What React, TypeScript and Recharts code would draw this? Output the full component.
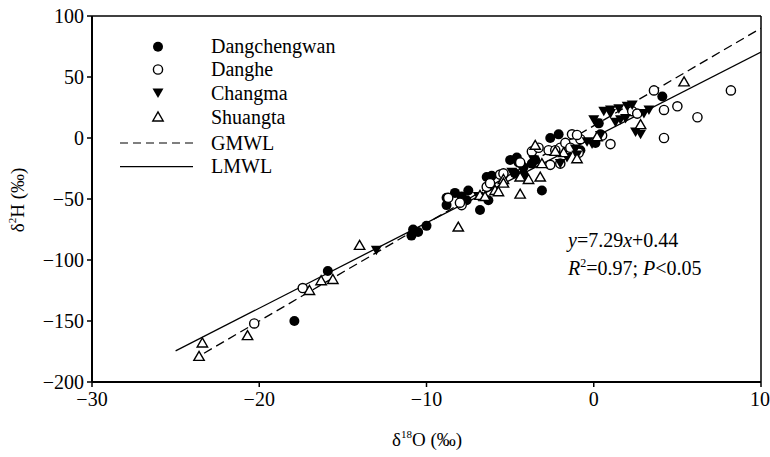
import React from 'react';
import { ScatterChart, Scatter, XAxis, YAxis, ReferenceLine, Customized } from 'recharts';

const FONT = '"Liberation Serif", "Times New Roman", serif';

// δ18O, δ2H pairs
const dangchengwan = [
  [-17.9, -150], [-15.9, -109], [-10.9, -80], [-10.5, -77], [-10.8, -75], [-10.0, -72],
  [-8.8, -55], [-8.3, -45], [-7.5, -43], [-7.6, -51], [-6.8, -59], [-6.4, -32], [-6.1, -31],
  [-5.4, -30], [-5.0, -18], [-4.6, -16], [-4.7, -29], [-3.7, -21], [-3.1, -43], [-2.6, 0],
  [-2.1, 3], [0.3, 12], [4.1, 34], [-7.9, -48], [-4.2, -24], [0.4, 3], [-8.8, -49],
  [-6.2, -38], [-6.3, -51], [-4.5, -20], [-3.5, -18], [-0.8, -10], [-4.2, -30], [0.1, -4],
].map(([x, y]) => ({ x, y }));

const danghe = [
  [-20.3, -152], [-17.4, -123], [-8.7, -49], [-7.9, -55], [-6.4, -40], [-6.2, -37], [-5.6, -30],
  [-3.7, -11], [-3.3, -8], [-2.0, -8], [-1.7, -4], [-1.4, -8], [-1.3, 3], [-0.8, -1], [0.5, 2],
  [1.0, -5], [2.3, 22], [3.6, 39], [4.2, 23], [5.0, 26], [8.2, 39], [6.2, 17], [4.2, 0],
  [-2.7, -10], [-4.4, -20], [-1.0, 2.5], [2.6, 20], [-2.3, -10], [-0.9, -12], [-2.0, -21],
  [-8.0, -53], [-5.4, -29], [-2.6, -22],
].map(([x, y]) => ({ x, y }));

const changma = [
  [-13.0, -92], [0.0, 15], [0.6, 22], [1.0, 23], [1.5, 24], [2.0, 26], [2.3, 27], [1.6, 15],
  [1.9, 16], [3.0, 20], [3.3, 23], [2.8, 3], [-0.4, -3], [-1.1, -9], [-1.0, -14], [-3.6, -18],
  [-2.0, -21], [-4.9, -28], [-0.1, -5], [0.4, 2], [-6.9, -48], [2.5, 5], [1.0, 20],
  [1.3, 13], [0.2, 12], [-1.6, -16],
].map(([x, y]) => ({ x, y }));

const shuangta = [
  [-23.4, -168], [-23.6, -179], [-20.7, -162], [-17.0, -125], [-16.3, -117], [-15.6, -116],
  [-14.0, -88], [-8.1, -73], [-6.8, -47], [-6.5, -48], [-5.9, -43], [-5.4, -34], [-4.4, -32],
  [-3.9, -34], [-3.2, -32], [-4.4, -46], [-3.5, -6], [-3.1, -21], [-1.8, -12], [-1.0, -17],
  [2.8, 11], [5.4, 46], [-5.7, -44], [-2.3, -11], [0.2, 1], [-5.4, -37],
].map(([x, y]) => ({ x, y }));

// water lines (end points)
const gmwl = [{ x: -23.3, y: -176.4 }, { x: 10, y: 90 }];
const lmwl = [{ x: -25, y: -174.5 }, { x: 10, y: 70.5 }];

const xTicks = [-30, -20, -10, 0, 10];
const yTicks = [-200, -150, -100, -50, 0, 50, 100];

const fmt = (v: number) => (v < 0 ? '\u2212' + Math.abs(v) : String(v));

const FilledCircle = (p: any) => <circle cx={p.cx} cy={p.cy} r={5} fill="#000" />;
const OpenCircle = (p: any) => (
  <circle cx={p.cx} cy={p.cy} r={4.6} fill="#fff" stroke="#000" strokeWidth={1.4} />
);
const DownTri = (p: any) => (
  <path d={`M${p.cx - 5.5},${p.cy - 4.5} L${p.cx + 5.5},${p.cy - 4.5} L${p.cx},${p.cy + 5} Z`} fill="#000" />
);
const UpTri = (p: any) => (
  <path
    d={`M${p.cx - 5.2},${p.cy + 4} L${p.cx + 5.2},${p.cy + 4} L${p.cx},${p.cy - 5} Z`}
    fill="#fff"
    stroke="#000"
    strokeWidth={1.4}
  />
);
const NoDot = () => <g />;

const Overlay = () => {
  const rows = [
    { label: 'Dangchengwan', sym: 'fc', y: 46.7 },
    { label: 'Danghe', sym: 'oc', y: 69.5 },
    { label: 'Changma', sym: 'dt', y: 93 },
    { label: 'Shuangta', sym: 'ut', y: 117 },
    { label: 'GMWL', sym: 'dash', y: 143 },
    { label: 'LMWL', sym: 'solid', y: 166.7 },
  ];
  return (
    <g fontFamily={FONT} fill="#000">
      {rows.map((r) => (
        <g key={r.label}>
          {r.sym === 'fc' && <FilledCircle cx={158} cy={r.y} />}
          {r.sym === 'oc' && <OpenCircle cx={158} cy={r.y} />}
          {r.sym === 'dt' && <DownTri cx={158} cy={r.y} />}
          {r.sym === 'ut' && <UpTri cx={158} cy={r.y} />}
          {r.sym === 'dash' && (
            <line x1={120} x2={193} y1={r.y} y2={r.y} stroke="#000" strokeWidth={1.2} strokeDasharray="8 5" />
          )}
          {r.sym === 'solid' && <line x1={120} x2={193} y1={r.y} y2={r.y} stroke="#000" strokeWidth={1.3} />}
          <text x={211} y={r.y + 6.5} fontSize={20}>
            {r.label}
          </text>
        </g>
      ))}
      <text x={568} y={247} fontSize={20}>
        <tspan fontStyle="italic">y</tspan>=7.29<tspan fontStyle="italic">x</tspan>+0.44
      </text>
      <text x={568} y={275} fontSize={20}>
        <tspan fontStyle="italic">R</tspan>
        <tspan fontSize={12} dy={-8}>2</tspan>
        <tspan dy={8}>=0.97; </tspan>
        <tspan fontStyle="italic">P</tspan>&lt;0.05
      </text>
      <text x={427} y={446} fontSize={19} textAnchor="middle">
        δ<tspan fontSize={11} dy={-8}>18</tspan>
        <tspan dy={8}>O (‰)</tspan>
      </text>
      <text x={24} y={200} fontSize={19} textAnchor="middle" transform="rotate(-90, 24, 200)">
        δ<tspan fontSize={11} dy={-8}>2</tspan>
        <tspan dy={8}>H (‰)</tspan>
      </text>
    </g>
  );
};

export default function App() {
  return (
    <div style={{ position: 'absolute', left: 0, top: 0, width: 770, height: 457, background: '#fff' }}>
      <ScatterChart width={770} height={457} margin={{ top: 16, right: 9, bottom: 45, left: 0 }}>
        <XAxis
          type="number"
          dataKey="x"
          domain={[-30, 10]}
          ticks={xTicks}
          allowDataOverflow
          height={30}
          tickSize={5}
          tickMargin={5}
          tickFormatter={fmt}
          axisLine={{ stroke: '#000', strokeWidth: 2 }}
          tickLine={{ stroke: '#000', strokeWidth: 1.5 }}
          tick={{ fontSize: 20, fill: '#000', fontFamily: FONT }}
        />
        <YAxis
          type="number"
          dataKey="y"
          domain={[-200, 100]}
          ticks={yTicks}
          allowDataOverflow
          width={92}
          tickSize={5}
          tickMargin={3}
          tickFormatter={fmt}
          axisLine={{ stroke: '#000', strokeWidth: 2 }}
          tickLine={{ stroke: '#000', strokeWidth: 1.5 }}
          tick={{ fontSize: 20, fill: '#000', fontFamily: FONT }}
        />
        <ReferenceLine y={100} stroke="#000" strokeWidth={1.5} />
        <ReferenceLine x={10} stroke="#000" strokeWidth={1.5} />
        <Scatter
          data={gmwl}
          shape={NoDot}
          line={{ stroke: '#000', strokeWidth: 1.3, strokeDasharray: '9 5' }}
          legendType="none"
          isAnimationActive={false}
        />
        <Scatter
          data={lmwl}
          shape={NoDot}
          line={{ stroke: '#000', strokeWidth: 1.3 }}
          legendType="none"
          isAnimationActive={false}
        />
        <Scatter data={dangchengwan} shape={FilledCircle} isAnimationActive={false} />
        <Scatter data={danghe} shape={OpenCircle} isAnimationActive={false} />
        <Scatter data={changma} shape={DownTri} isAnimationActive={false} />
        <Scatter data={shuangta} shape={UpTri} isAnimationActive={false} />
        <Customized component={Overlay} />
      </ScatterChart>
    </div>
  );
}
